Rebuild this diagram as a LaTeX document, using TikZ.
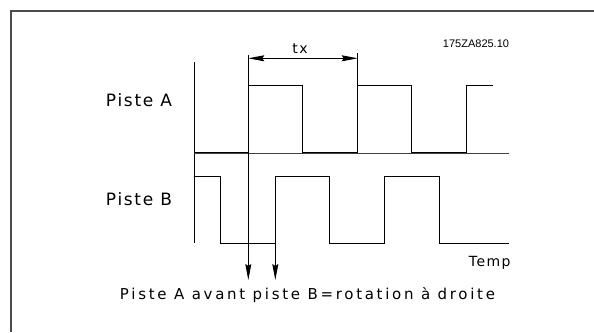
\documentclass[tikz,border=0pt]{standalone}
\usepackage{fontspec}
\usetikzlibrary{arrows.meta, positioning}
\setmainfont{DejaVu Sans}
\newfontfamily\cadfont[LetterSpace=10]{DejaVu Sans}
\newfontfamily\cadwidefont[LetterSpace=18]{DejaVu Sans}
\newfontfamily\reffont{Liberation Sans}

\begin{document}
\begin{tikzpicture}[>={Stealth[length=16pt, width=6pt, inset=2pt]}, x=1pt, y=-1pt,
    signal/.style={line width=0.8pt},
    frameline/.style={line width=1.2pt, black!70},
    cadlabel/.style={font=\cadfont\fontsize{17}{20}\selectfont, inner sep=0pt}]
    \useasboundingbox (0,0) rectangle (594,332);

    % cadre (haut et gauche seulement)
    \coordinate (frameTL) at (11,11);
    \coordinate (frameTR) at (594,11);
    \coordinate (frameBL) at (11,332);
    \draw[frameline] (frameBL) -- (frameTL) -- (frameTR);

    % textes
    \node[cadlabel] (pisteA) at (139,100) {Piste A};
    \node[cadlabel] (pisteB) at (139,199) {Piste B};
    \node[cadlabel, font=\cadfont\fontsize{14}{16}\selectfont, anchor=east] (temp) at (510.7,263) {Temp};
    \node[cadlabel, font=\cadfont\fontsize{14}{16}\selectfont] (tx) at (300,49) {tx};
    \node[font=\reffont\fontsize{11}{13}\selectfont, inner sep=0pt] (ref) at (476,44) {175ZA825.10};
    \node[cadlabel, font=\cadwidefont\fontsize{15}{18}\selectfont] (legende) at (307.5,295) {Piste A avant piste B=rotation à droite};

    % axe commun et ligne de séparation
    \coordinate (axeTop) at (194.3,62);
    \coordinate (axeBot) at (194.3,243.3);
    \draw[signal] (axeTop) -- (axeBot);
    \draw[signal, black!75] (194.3,153.3) -- (509,153.3);

    % piste A
    \draw[signal] (194.3,152.3) -- (248.3,152.3) -- (248.3,85.7) -- (302.7,85.7)
        -- (302.7,152.3) -- (357.7,152.3) -- (357.7,85.7) -- (411.7,85.7)
        -- (411.7,152.3) -- (466.7,152.3) -- (466.7,85.7) -- (492.7,85.7);

    % piste B
    \draw[signal] (194.3,176.7) -- (220.7,176.7) -- (220.7,243.3) -- (275.3,243.3)
        -- (275.3,176.7) -- (329.3,176.7) -- (329.3,243.3) -- (384,243.3)
        -- (384,176.7) -- (439,176.7) -- (439,243.3) -- (509,243.3);

    % repères de fronts et cote tx
    \coordinate (frontA) at (248.3,55);
    \coordinate (frontA2) at (357.7,53);
    \coordinate (frontA2bas) at (357.7,85.7);
    \coordinate (frontB) at (275.3,243.3);
    \coordinate (finA) at (248.3,280);
    \coordinate (finB) at (275.3,280);
    \draw[signal] (frontA2) -- (frontA2bas);
    \draw[signal, ->] (frontA) -- (finA);
    \draw[signal, ->] (frontB) -- (finB);
    \draw[signal, <->] (248.3,58.3) -- (357.7,58.3);
\end{tikzpicture}
\end{document}
